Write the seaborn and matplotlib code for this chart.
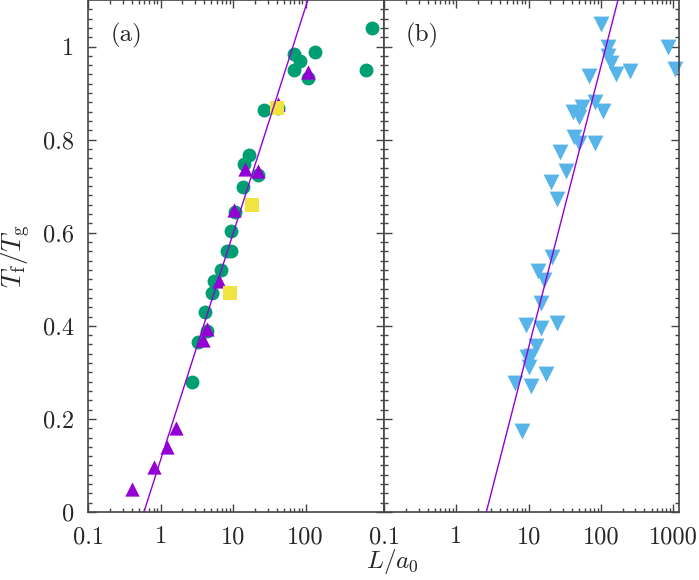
import numpy as np
import pandas as pd
import matplotlib
matplotlib.use('Agg')
import matplotlib.pyplot as plt
import seaborn as sns

# panel (a): three data sets
circ_x = [830, 683, 133, 68, 84, 68, 106, 26.8, 42, 16.3, 13.9, 21.7, 13.6, 10.7,
          9.4, 8.2, 9.4, 6.8, 5.5, 5.1, 4.1, 4.3, 3.3, 2.75]
circ_y = [1.039, 0.949, 0.988, 0.984, 0.970, 0.949, 0.933, 0.863, 0.868, 0.766,
          0.748, 0.725, 0.698, 0.644, 0.604, 0.560, 0.560, 0.519, 0.497, 0.470,
          0.429, 0.388, 0.366, 0.279]
tri_x = [106, 42, 14.7, 21.7, 10.3, 6.3, 4.3, 3.9, 1.62, 1.24, 0.82, 0.41]
tri_y = [0.945, 0.877, 0.737, 0.732, 0.649, 0.497, 0.393, 0.370, 0.181, 0.140,
         0.096, 0.049]
sq_x = [40.7, 18.1, 9.1]
sq_y = [0.868, 0.660, 0.470]
fit_a_x = [0.59, 107]
fit_a_y = [0.0, 1.1]

# panel (b)
dtri_x = [99, 834, 1067, 124, 126, 136, 162, 253, 68, 83, 108, 54, 41, 49, 43, 50,
          83, 27, 33, 20.6, 24.7, 21, 13.5, 16.3, 14.7, 9.3, 15, 24.7, 12.5, 10.9,
          9.5, 10.1, 17.6, 6.5, 10.7, 8.2]
dtri_y = [1.049, 0.999, 0.951, 0.999, 0.979, 0.965, 0.940, 0.948, 0.937, 0.880,
          0.861, 0.870, 0.859, 0.849, 0.806, 0.793, 0.793, 0.774, 0.733, 0.709,
          0.673, 0.548, 0.517, 0.499, 0.449, 0.402, 0.396, 0.407, 0.357, 0.335,
          0.332, 0.311, 0.296, 0.277, 0.271, 0.173]
fit_b_x = [2.6, 172]
fit_b_y = [0.0, 1.1]

GREEN = '#009E73'
PURPLE = '#9400D3'
YELLOW = '#F0E442'
BLUE = '#56B4E9'
FRAME = '#444444'

sns.set_style('ticks')
plt.rcParams['font.family'] = ['cmr10', 'DejaVu Serif']
plt.rcParams['mathtext.fontset'] = 'cm'
plt.rcParams['axes.formatter.use_mathtext'] = True
plt.rcParams['axes.unicode_minus'] = False

fig = plt.figure(figsize=(6.99, 5.80), dpi=100)
H = 512 / 580
ax1 = fig.add_axes([88 / 699, 1 - H, 296 / 699, H])
ax2 = fig.add_axes([384 / 699, 1 - H, 295 / 699, H], sharey=ax1)

sns.scatterplot(x=circ_x, y=circ_y, ax=ax1, color=GREEN, marker='o', s=100,
                linewidth=0, zorder=2)
sns.scatterplot(x=tri_x, y=tri_y, ax=ax1, color=PURPLE, marker='^', s=105,
                linewidth=0, zorder=3)
sns.scatterplot(x=sq_x, y=sq_y, ax=ax1, color=YELLOW, marker='s', s=115,
                linewidth=0, zorder=4)
ax1.plot(fit_a_x, fit_a_y, color=PURPLE, lw=1.0, zorder=5)

sns.scatterplot(x=dtri_x, y=dtri_y, ax=ax2, color=BLUE, marker='v', s=130,
                linewidth=0, zorder=2, clip_on=False)
ax2.plot(fit_b_x, fit_b_y, color=PURPLE, lw=1.0, zorder=5)

for ax, top_dec in [(ax1, 2), (ax2, 3)]:
    ax.set_xscale('log')
    ax.set_xlim(0.1, 1200)
    ax.set_ylim(0, 1.1)
    majors = [10.0 ** k for k in range(-1, top_dec + 1)]
    minors = [m * 10.0 ** k for k in range(-1, top_dec) for m in range(2, 10)]
    ax.set_xticks(majors)
    ax.set_xticklabels(['%g' % v for v in majors])
    ax.set_xticks(minors, minor=True)
    ax.set_xticklabels([], minor=True)
    ax.set_yticks(np.arange(0, 1.01, 0.2))
    ax.set_yticks(np.arange(0, 1.1, 0.02), minor=True)
    ax.tick_params(which='both', direction='in', top=True, right=True,
                   color=FRAME, width=1.0, labelsize=17.5, pad=10)
    ax.tick_params(which='major', length=6)
    ax.tick_params(which='minor', length=3)
    for sp in ax.spines.values():
        sp.set_color(FRAME)
        sp.set_linewidth(1.2)
        sp.set_visible(True)

ax1.set_yticklabels(['%g' % v for v in np.arange(0, 1.01, 0.2).round(1)])
ax2.tick_params(axis='y', labelleft=False)

ax1.set_ylabel(r'$T_\mathrm{f}/T_\mathrm{g}$', fontsize=19.5, labelpad=7)
fig.text(392 / 699, 1 - 562 / 580, r'$L/a_0$', fontsize=18, ha='center', va='center')

ax1.text(0.075, 0.93, '(a)', transform=ax1.transAxes, fontsize=18, va='center')
ax2.text(0.075, 0.93, '(b)', transform=ax2.transAxes, fontsize=18, va='center')

fig.savefig('out.png', dpi=100)
